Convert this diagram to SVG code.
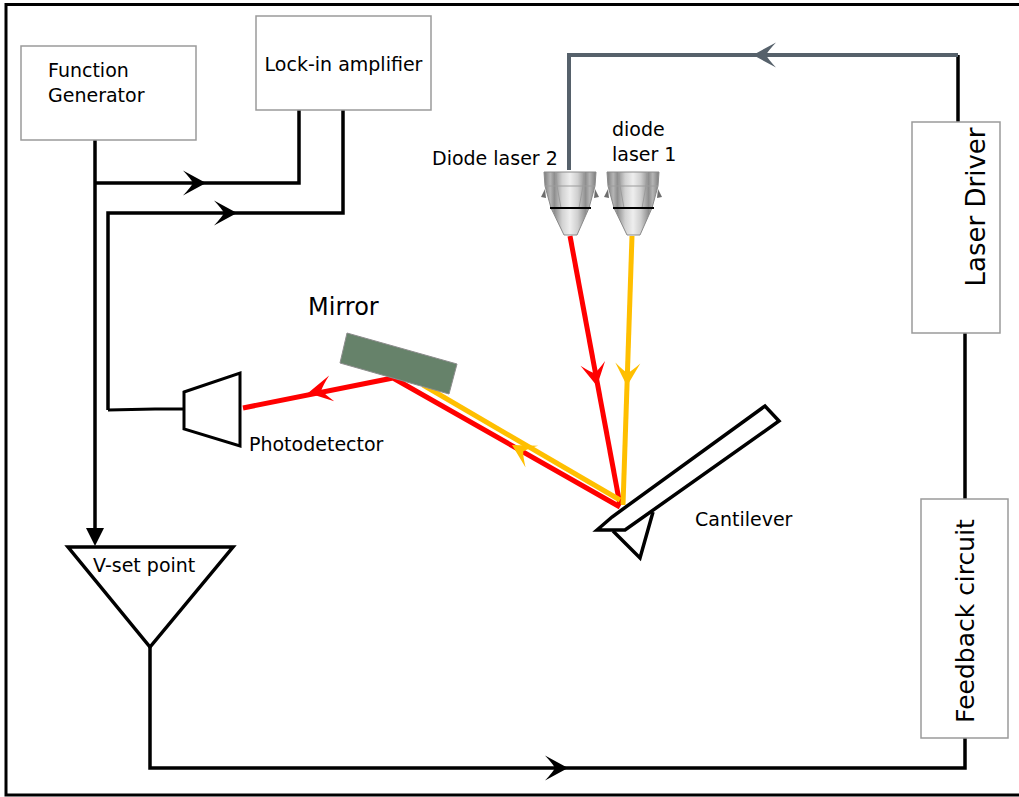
<svg xmlns="http://www.w3.org/2000/svg" xmlns:xlink="http://www.w3.org/1999/xlink" width="1019" height="797" viewBox="0 0 1019 797">
  <style>
    .box { fill: #ffffff; stroke: #9a9a9a; stroke-width: 1.5; }
    .wire { fill: none; stroke: #000000; stroke-width: 3.5; stroke-linejoin: miter; }
    .gwire { fill: none; stroke: #56616b; stroke-width: 4; }
    .lbl { font-family: "DejaVu Sans", "Liberation Sans", sans-serif; font-size: 19px; fill: #000000; }
    .big { font-size: 25px; }
    .red { fill: none; stroke: #ff0000; stroke-width: 5; }
    .yel { fill: none; stroke: #ffbf00; stroke-width: 5; }
    .part { fill: #ffffff; stroke: #000000; stroke-width: 3.5; stroke-linejoin: miter; }
  </style>
  <defs>
    <!-- notched arrowhead, tip at the origin pointing along +x -->
    <path id="arr" d="M0,0 L-23,-12.5 Q-15,-4 -13,0 Q-15,4 -23,12.5 Z"/>
    <linearGradient id="metal" x1="0" y1="0" x2="1" y2="0">
      <stop offset="0" stop-color="#7c7c7c"/>
      <stop offset="0.12" stop-color="#b5b5b5"/>
      <stop offset="0.2" stop-color="#8e8e8e"/>
      <stop offset="0.35" stop-color="#d2d2d2"/>
      <stop offset="0.5" stop-color="#eeeeee"/>
      <stop offset="0.65" stop-color="#cfcfcf"/>
      <stop offset="0.8" stop-color="#8e8e8e"/>
      <stop offset="0.88" stop-color="#b5b5b5"/>
      <stop offset="1" stop-color="#7c7c7c"/>
    </linearGradient>
    <g id="diode">
      <path d="M-26,0 L26,0 L25,14 L19,36 L7,63 L-6,63 L-19,36 L-25,14 Z" fill="url(#metal)" stroke="#8a8a8a" stroke-width="1"/>
      <path d="M-14,0 L-13,14 L-9,36 M14,0 L13,14 L9,36 M-25,14 L25,14" fill="none" stroke="#9c9c9c" stroke-width="1"/>
      <path d="M-25,17 L-29,25 L-24,26 Z M25,17 L29,25 L24,26 Z" fill="#6e6e6e"/>
      <line x1="-20" y1="36" x2="21" y2="36" stroke="#000000" stroke-width="2"/>
    </g>
  </defs>

  <!-- outer frame -->
  <rect x="6" y="4.5" width="1040" height="790.5" fill="#ffffff" stroke="#000000" stroke-width="3"/>

  <!-- connectors -->
  <g id="connectors">
    <polyline class="wire" points="95,140 95,530"/>
    <polygon points="95,546 86,528 104,528" fill="#000000"/>
    <polyline class="wire" points="95,183 299,183 299,110"/>
    <polyline class="wire" points="108,410 108,213 343,213 343,110"/>
    <polyline class="wire" points="108,410 155,409 184,409" style="stroke-width:3"/>
    <polyline class="wire" points="150,647 150,768 965,768 965,738"/>
    <polyline class="wire" points="965,500 965,333"/>
    <polyline class="wire" points="958,122 958,55"/>
    <polyline class="gwire" points="958,55 569,55 569,170"/>
    <use xlink:href="#arr" transform="translate(206,183)"/>
    <use xlink:href="#arr" transform="translate(237,213)"/>
    <use xlink:href="#arr" transform="translate(568,768)"/>
    <use xlink:href="#arr" fill="#56616b" transform="translate(753,55) rotate(180)"/>
  </g>

  <!-- laser beams -->
  <g id="beams">
    <polyline class="red" points="570,236 620,505"/>
    <polyline class="yel" points="632,236 623,505"/>
    <polyline class="yel" points="620,500 423,385"/>
    <polyline class="red" points="620,507 393,378 243,408"/>
    <use xlink:href="#arr" fill="#ff0000" transform="translate(597,386) rotate(79.4)"/>
    <use xlink:href="#arr" fill="#ffbf00" transform="translate(627,386) rotate(92)"/>
    <use xlink:href="#arr" fill="#ffbf00" transform="translate(512,445) rotate(210.3)"/>
    <use xlink:href="#arr" fill="#ff0000" transform="translate(308,393) rotate(168.7) scale(1.05)"/>
  </g>

  <g id="function-generator">
    <rect class="box" x="21" y="46" width="175" height="94"/>
    <text class="lbl" x="48" y="77">Function</text>
    <text class="lbl" x="48" y="102">Generator</text>
  </g>

  <g id="lock-in-amplifier">
    <rect class="box" x="256" y="16" width="175" height="94"/>
    <text class="lbl" x="343.5" y="71" text-anchor="middle">Lock-in amplifier</text>
  </g>

  <g id="laser-driver">
    <rect class="box" x="912" y="122" width="88" height="211"/>
    <text class="lbl big" transform="translate(985,207) rotate(-90)" text-anchor="middle" style="font-size:26px">Laser Driver</text>
  </g>

  <g id="feedback-circuit">
    <rect class="box" x="921" y="499" width="87" height="239"/>
    <text class="lbl big" transform="translate(974,621) rotate(-90)" text-anchor="middle">Feedback circuit</text>
  </g>

  <g id="v-set-point">
    <polygon class="part" points="68,547 233,547 150,647"/>
    <text class="lbl" x="93" y="572">V-set point</text>
  </g>

  <g id="photodetector">
    <polygon class="part" points="184,392 240,373 240,446 184,429" style="stroke-width:3"/>
    <text class="lbl" x="249" y="451">Photodetector</text>
  </g>

  <g id="mirror">
    <polygon points="347,333 457,364 449,394 340,363" fill="#66826a" stroke="#8c8c8c" stroke-width="1"/>
    <text class="lbl" x="308" y="315" style="font-size:24px">Mirror</text>
  </g>

  <g id="diode-laser-2">
    <use xlink:href="#diode" transform="translate(570,172)"/>
    <text class="lbl" x="432" y="165">Diode laser 2</text>
  </g>

  <g id="diode-laser-1">
    <use xlink:href="#diode" transform="translate(633,172)"/>
    <text class="lbl" x="612" y="136">diode</text>
    <text class="lbl" x="612" y="161">laser 1</text>
  </g>

  <g id="cantilever">
    <polygon class="part" points="597,530 612,517 765,406 779,421 625,530"/>
    <polyline class="part" points="613,531 640,558 653,512" style="fill:none"/>
    <text class="lbl" x="695" y="526">Cantilever</text>
  </g>
</svg>
